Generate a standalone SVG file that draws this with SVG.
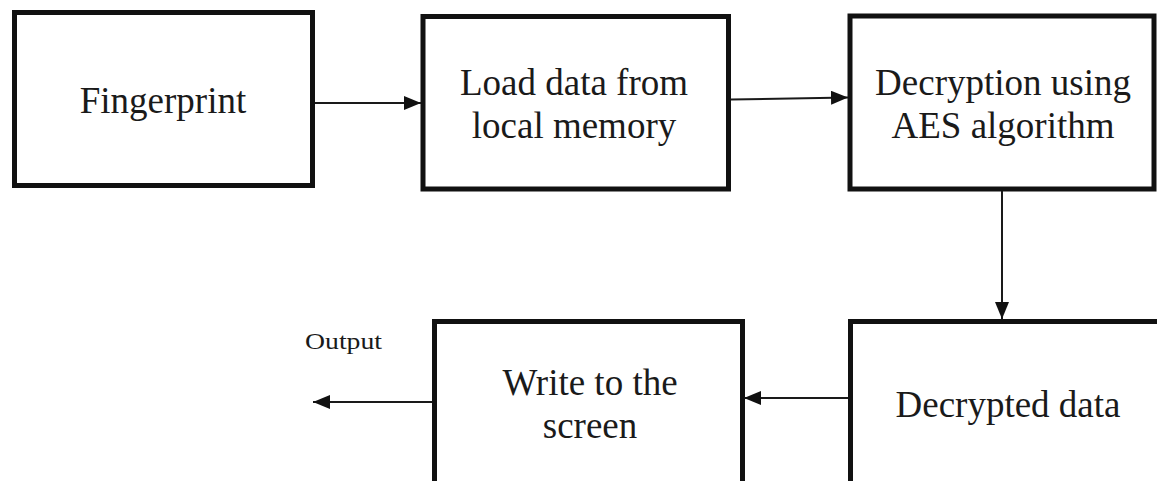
<svg xmlns="http://www.w3.org/2000/svg" width="1157" height="481" viewBox="0 0 1157 481">
<style>
.box{fill:#fff;stroke:#111;stroke-width:5}
.lbl{font-family:"Liberation Serif","Times New Roman",serif;font-size:37px;fill:#1a1a1a;text-anchor:middle}
.conn{stroke:#1a1a1a;stroke-width:2;fill:none;marker-end:url(#ah)}
</style>
<defs>
<marker id="ah" markerUnits="userSpaceOnUse" markerWidth="18" markerHeight="14" refX="17" refY="7" orient="auto">
<path d="M0,0 L17,7 L0,14 Z" fill="#111"/>
</marker>
</defs>
<rect width="1157" height="481" fill="#fff"/>
<g id="fingerprint">
<rect class="box" x="14.5" y="12.5" width="298" height="173"/>
<text class="lbl" x="163" y="113">Fingerprint</text>
</g>
<g id="load">
<rect class="box" x="423" y="16.5" width="305.5" height="172.5"/>
<text class="lbl" x="574" y="95">Load data from</text>
<text class="lbl" x="574" y="138">local memory</text>
</g>
<g id="decrypt">
<rect class="box" x="850" y="16" width="304" height="173"/>
<text class="lbl" x="1003" y="95">Decryption using</text>
<text class="lbl" x="1003" y="138">AES algorithm</text>
</g>
<g id="decrypted">
<rect class="box" x="850.5" y="321.5" width="400" height="200"/>
<text class="lbl" x="1008" y="417">Decrypted data</text>
</g>
<g id="write">
<rect class="box" x="434.5" y="321.5" width="308" height="200"/>
<text class="lbl" x="590" y="395">Write to the</text>
<text class="lbl" x="590" y="438">screen</text>
</g>
<g id="output-label">
<text x="305" y="349" font-family="Liberation Serif, Times New Roman, serif" font-size="24" fill="#1a1a1a" textLength="77" lengthAdjust="spacingAndGlyphs">Output</text>
</g>
<g id="connectors">
<line class="conn" x1="315" y1="103" x2="421" y2="103"/>
<line class="conn" x1="731" y1="99.5" x2="848" y2="97.5"/>
<line class="conn" x1="1002" y1="191" x2="1002" y2="319"/>
<line class="conn" x1="848" y1="398" x2="744" y2="398"/>
<line class="conn" x1="432" y1="402" x2="313" y2="402"/>
</g>
</svg>
